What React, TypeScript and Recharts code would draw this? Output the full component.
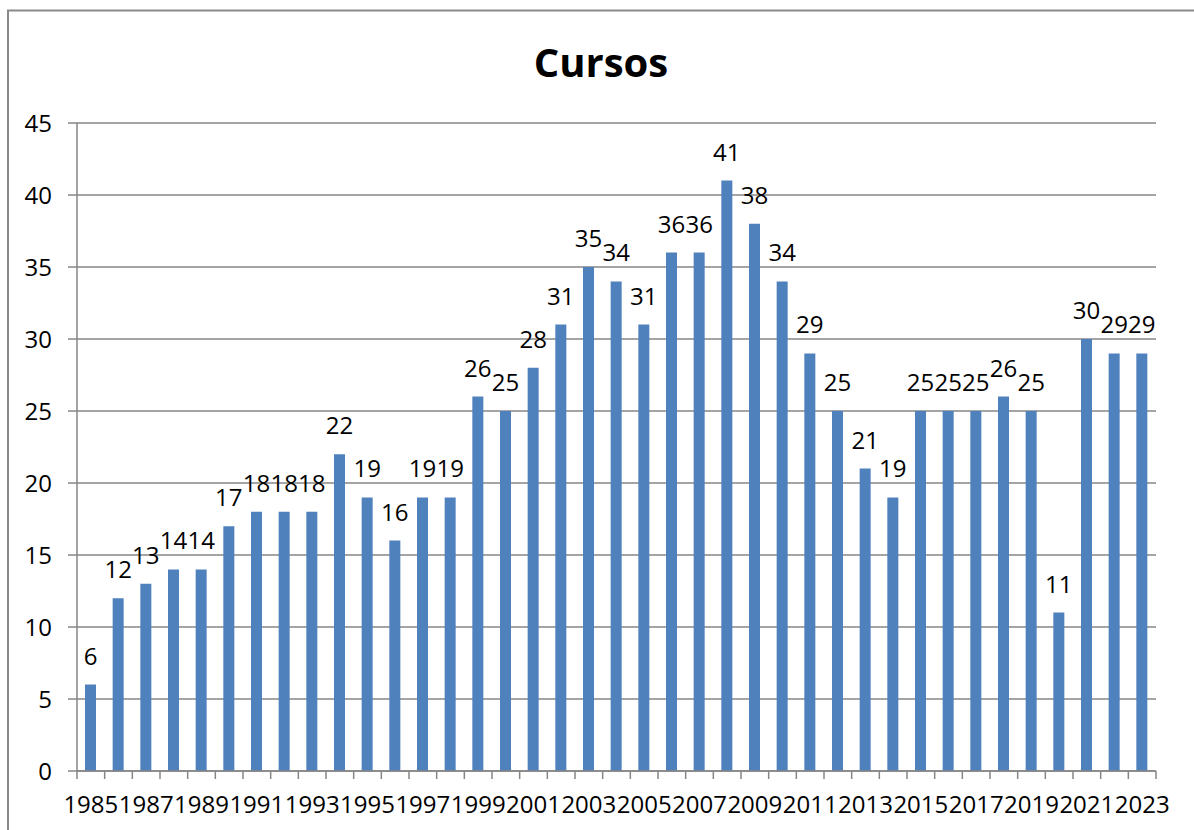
import React from 'react';
import { BarChart, Bar, XAxis, YAxis, CartesianGrid, LabelList } from 'recharts';

const years = [
  '1985', '1986', '1987', '1988', '1989', '1990', '1991', '1992', '1993', '1994',
  '1995', '1996', '1997', '1998', '1999', '2000', '2001', '2002', '2003', '2004',
  '2005', '2006', '2007', '2008', '2009', '2010', '2011', '2012', '2013', '2014',
  '2015', '2016', '2017', '2018', '2019', '2020', '2021', '2022', '2023',
];
const cursos = [
  6, 12, 13, 14, 14, 17, 18, 18, 18, 22,
  19, 16, 19, 19, 26, 25, 28, 31, 35, 34,
  31, 36, 36, 41, 38, 34, 29, 25, 21, 19,
  25, 25, 25, 26, 25, 11, 30, 29, 29,
];
const yTicks = [0, 5, 10, 15, 20, 25, 30, 35, 40, 45];

const data = years.map((year, i) => ({ year, cursos: cursos[i] }));

const W = 1194;
const H = 830;
const margin = { top: 123, right: 38, bottom: 0, left: 8 };
const yAxisW = 69;
const band = (W - margin.left - margin.right - yAxisW) / years.length;

const FONT = '"Open Sans", "Noto Sans", sans-serif';
const AXIS = '#868686';
const FS = 24;

// ticks sit on the category boundaries, labels on every other year
const XTick = (props: any) => {
  const { x, y, payload, index } = props;
  const h = band / 2;
  return (
    <g>
      <line x1={x - h} x2={x - h} y1={y} y2={y + 8} stroke={AXIS} strokeWidth={1.5} />
      {index === years.length - 1 && (
        <line x1={x + h} x2={x + h} y1={y} y2={y + 8} stroke={AXIS} strokeWidth={1.5} />
      )}
      {index % 2 === 0 && (
        <text x={x} y={y + 42} textAnchor="middle" fill="#000" fontSize={FS} fontFamily={FONT}>
          {payload.value}
        </text>
      )}
    </g>
  );
};

export default function App() {
  return (
    <div style={{ position: 'absolute', left: 0, top: 0, width: W, height: H, overflow: 'hidden', background: '#fff' }}>
      <BarChart width={W} height={H} data={data} margin={margin}>
        <CartesianGrid vertical={false} stroke={AXIS} strokeWidth={1.5} />
        <XAxis
          dataKey="year"
          interval={0}
          height={59}
          tickLine={false}
          tickSize={0}
          tickMargin={0}
          axisLine={{ stroke: AXIS, strokeWidth: 1.5 }}
          tick={<XTick />}
        />
        <YAxis
          width={yAxisW}
          domain={[0, 45]}
          ticks={yTicks}
          interval={0}
          tickSize={9}
          tickMargin={16}
          axisLine={{ stroke: AXIS, strokeWidth: 1.5 }}
          tickLine={{ stroke: AXIS, strokeWidth: 1.5 }}
          tick={{ fill: '#000', fontSize: FS, fontFamily: FONT }}
        />
        <Bar dataKey="cursos" fill="#4f81bd" barSize={11} isAnimationActive={false}>
          <LabelList
            dataKey="cursos"
            position="top"
            offset={20}
            fill="#000"
            fontSize={FS}
            fontFamily={FONT}
          />
        </Bar>
      </BarChart>
      <svg width={W} height={H} style={{ position: 'absolute', left: 0, top: 0, pointerEvents: 'none' }}>
        <path d={`M8 ${H} V10.5 H${W}`} fill="none" stroke="#898989" strokeWidth={2} />
        <text x={601} y={77} textAnchor="middle" fontSize={40} fontWeight="bold" fontFamily={FONT} fill="#000">
          Cursos
        </text>
      </svg>
    </div>
  );
}
